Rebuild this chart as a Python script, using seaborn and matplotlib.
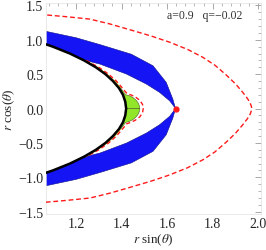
import numpy as np
import pandas as pd
import matplotlib
matplotlib.use('Agg')
import matplotlib.pyplot as plt
import matplotlib.ticker as mticker
import seaborn as sns

sns.set_style("white")
plt.rcParams['font.family'] = ['Liberation Serif', 'DejaVu Serif']
plt.rcParams['mathtext.fontset'] = 'stix'

BLUE = '#1414f5'
RED = '#ff1a1a'
GREEN = '#92e62a'
YELLOW = '#f2e21a'
TICK = '#9a9a9a'

# upper halves (the figure is mirror symmetric in y)
ergo_x = [1.040, 1.064, 1.160, 1.261, 1.349, 1.443, 1.530, 1.611, 1.690, 1.757, 1.810,
          1.859, 1.900, 1.931, 1.952, 1.965, 1.970, 1.972]
ergo_y = [1.375, 1.363, 1.335, 1.301, 1.230, 1.140, 1.055, 0.965, 0.860, 0.745, 0.630,
          0.490, 0.360, 0.240, 0.150, 0.080, 0.030, 0.0]

hor_x = [1.045, 1.098, 1.173, 1.235, 1.287, 1.329, 1.362, 1.388, 1.406, 1.416, 1.420]
hor_y = [0.960, 0.900, 0.800, 0.700, 0.600, 0.500, 0.400, 0.300, 0.200, 0.100, 0.0]

band_out_x = [1.040, 1.069, 1.200, 1.305, 1.443, 1.538, 1.596, 1.625, 1.637]
band_out_y = [1.135, 1.122, 1.030, 0.930, 0.790, 0.622, 0.381, 0.138, 0.0]
band_in_x = [1.637, 1.611, 1.567, 1.509, 1.422, 1.305, 1.235, 1.173, 1.098, 1.045]
band_in_y = [0.0, 0.113, 0.235, 0.356, 0.501, 0.647, 0.705, 0.800, 0.900, 0.960]

green_x = [1.241, 1.294, 1.336, 1.370, 1.396, 1.418, 1.432, 1.450, 1.464, 1.473, 1.478, 1.480]
green_y = [0.700, 0.600, 0.500, 0.400, 0.300, 0.200, 0.190, 0.160, 0.120, 0.080, 0.040, 0.0]

lobe_x = [1.245, 1.300, 1.343, 1.377, 1.403, 1.423, 1.440, 1.460, 1.480, 1.492, 1.495]
lobe_y = [0.700, 0.600, 0.500, 0.400, 0.300, 0.220, 0.200, 0.170, 0.120, 0.060, 0.0]

tip = (1.637, 0.0)
label = 'a=0.9   q=\u22120.02'


def mirror(xs, ys):
    # upper half top->equator, then lower half back out
    xs = list(xs) + list(xs[::-1][1:])
    ys = list(ys) + [-v for v in ys[::-1][1:]]
    return np.array(xs), np.array(ys)


fig = plt.figure(figsize=(2.66, 2.51), dpi=100)
ax = fig.add_axes([0.173, 0.143, 0.808, 0.841])

hx, hy = mirror(hor_x, hor_y)
for s in (1, -1):
    # blue band
    ax.fill(band_out_x + band_in_x, [s * v for v in band_out_y + band_in_y],
            color=BLUE, lw=0.4, ec='#10108a', zorder=2)
    # green sliver + lobe hugging the horizon
    k = hor_y.index(0.7)
    px = green_x + hor_x[k:][::-1]
    py = [s * v for v in green_y + hor_y[k:][::-1]]
    ax.fill(px, py, color=GREEN, ec='#4a5a20', lw=0.4, zorder=3)
    ax.plot([v + 0.006 for v in hor_x[k:k + 5]], [s * v for v in hor_y[k:k + 5]],
            color=YELLOW, lw=0.8, zorder=3)

# outer dashed curves
ex, ey = mirror(ergo_x, ergo_y)
curves = pd.DataFrame({'x': ex, 'y': ey})
sns.lineplot(data=curves, x='x', y='y', sort=False, estimator=None, ax=ax,
             color=RED, lw=1.0, dashes=(3.5, 2), zorder=4)
lx, ly = mirror(lobe_x, lobe_y)
sns.lineplot(x=lx, y=ly, sort=False, estimator=None, ax=ax,
             color=RED, lw=1.0, dashes=(3, 2), zorder=4)

# horizon
sns.lineplot(x=hx, y=hy, sort=False, estimator=None, ax=ax, color='black', lw=1.8, zorder=5)

ax.plot(*tip, 'o', color=RED, ms=3.5, zorder=6)

ax.set_xlim(1.068, 2.012)
ax.set_ylim(-1.535, 1.535)
ax.xaxis.set_major_locator(mticker.MultipleLocator(0.2))
ax.xaxis.set_minor_locator(mticker.MultipleLocator(0.04))
ax.yaxis.set_major_locator(mticker.MultipleLocator(0.5))
ax.yaxis.set_minor_locator(mticker.MultipleLocator(0.1))
ax.xaxis.set_major_formatter(mticker.FormatStrFormatter('%.1f'))
ax.yaxis.set_major_formatter(mticker.FuncFormatter(lambda v, p: f'{v:.1f}'.replace('-', '\u2212')))
ax.tick_params(which='both', direction='in', color=TICK, top=True, right=True,
               labelsize=10, pad=2)
ax.tick_params(which='major', length=4, width=0.6)
ax.tick_params(which='minor', length=2, width=0.5)
for sp in ax.spines.values():
    sp.set_color('#e0e0e0')
    sp.set_linewidth(0.5)

ax.set_xlabel(r'$r$ sin($\theta$)', fontsize=9.5, labelpad=1)
ax.set_ylabel(r'$r$ cos($\theta$)', fontsize=9.5, labelpad=1)
ax.text(0.565, 0.945, label, transform=ax.transAxes, fontsize=8.5, color='#333333', va='center')

plt.savefig('out.png', dpi=100)
